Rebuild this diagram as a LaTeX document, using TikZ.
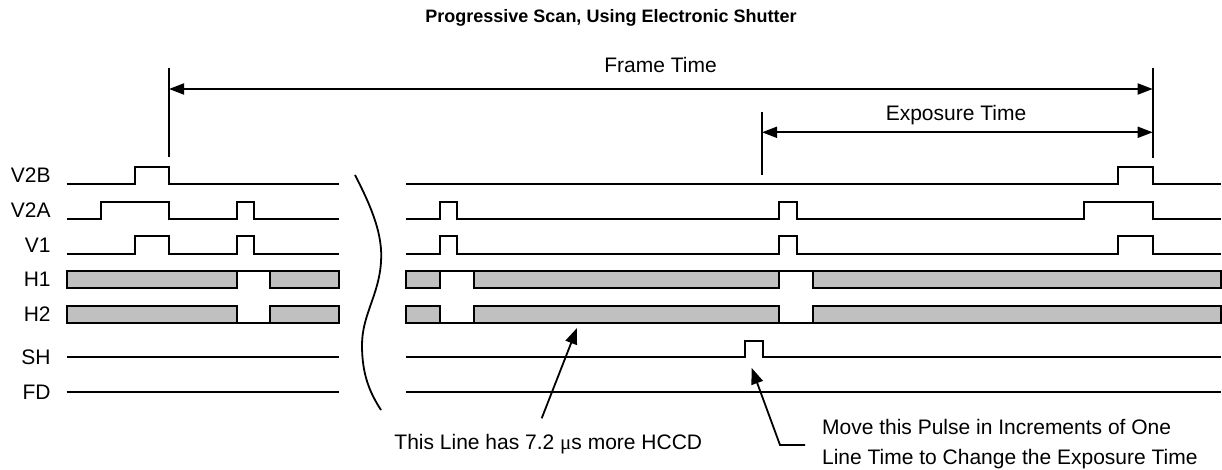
\documentclass[tikz,border=0pt]{standalone}
\usepackage{fontspec}
\setmainfont{Liberation Sans}
\newfontfamily\mufont{Liberation Serif}
\usetikzlibrary{arrows.meta}
\definecolor{busgray}{RGB}{192,192,192}
\begin{document}
\begin{tikzpicture}[x=0.5pt,y=-0.5pt,
  sig/.style={line width=0.9pt, line join=miter, line cap=butt},
  bus/.style={line width=0.9pt, fill=busgray, draw=black},
  tickline/.style={line width=0.9pt},
  dimarrow/.style={line width=0.9pt, {Triangle[length=7.5pt,width=5.5pt]}-{Triangle[length=7.5pt,width=5.5pt]}},
  pointer/.style={line width=0.9pt, -{Triangle[length=8pt,width=6pt]}},
  lbl/.style={anchor=east, inner sep=0pt, font=\fontsize{10.5pt}{12pt}\selectfont},
  txt/.style={inner sep=0pt, font=\fontsize{10.5pt}{12pt}\selectfont},
  ttl/.style={inner sep=0pt, font=\bfseries\fontsize{9pt}{11pt}\selectfont}]
\useasboundingbox (0,0) rectangle (1222,470);

% title
\node[ttl, anchor=base] (title) at (611,23) {Progressive Scan, Using Electronic Shutter};

% dimension marks
\coordinate (fTop1) at (169,68);   \coordinate (fBot1) at (169,157);
\coordinate (fTop2) at (1152.7,68); \coordinate (fBot2) at (1152.7,157.7);
\coordinate (eTop1) at (762,112.3); \coordinate (eBot1) at (762,175);
\draw[tickline] (fTop1) -- (fBot1);
\draw[tickline] (fTop2) -- (fBot2);
\draw[tickline] (eTop1) -- (eBot1);
\coordinate (fL) at (169,89);  \coordinate (fR) at (1152.7,89);
\coordinate (eL) at (762,132.3); \coordinate (eR) at (1152.7,132.3);
\draw[dimarrow] (fL) -- (fR);
\draw[dimarrow] (eL) -- (eR);
\node[txt, anchor=base] (frametime) at (660.5,72.7) {Frame Time};
\node[txt, anchor=base] (exptime) at (956,120.7) {Exposure Time};

% labels
\node[lbl] (lV2B) at (51,175) {V2B};
\node[lbl] (lV2A) at (51,210.3) {V2A};
\node[lbl] (lV1) at (51,245) {V1};
\node[lbl] (lH1) at (51,279.7) {H1};
\node[lbl] (lH2) at (51,314.2) {H2};
\node[lbl] (lSH) at (51,357.3) {SH};
\node[lbl] (lFD) at (51,392) {FD};

% V2B
\draw[sig] (66.7,183.7) -- (134.7,183.7) -- (134.7,166.7) -- (169,166.7) -- (169,183.7) -- (339,183.7);
\draw[sig] (406,183.7) -- (1118.3,183.7) -- (1118.3,166.7) -- (1152.7,166.7) -- (1152.7,183.7) -- (1220.7,183.7);

% V2A
\draw[sig] (66.7,219) -- (101,219) -- (101,201.7) -- (169,201.7) -- (169,219) -- (236.7,219) -- (236.7,201.7) -- (254,201.7) -- (254,219) -- (339,219);
\draw[sig] (406,219) -- (440,219) -- (440,201.7) -- (457.3,201.7) -- (457.3,219) -- (779.3,219) -- (779.3,201.7) -- (796.7,201.7) -- (796.7,219) -- (1084.3,219) -- (1084.3,201.7) -- (1152.7,201.7) -- (1152.7,219) -- (1220.7,219);

% V1
\draw[sig] (66.7,253.7) -- (134.7,253.7) -- (134.7,236.3) -- (169,236.3) -- (169,253.7) -- (236.7,253.7) -- (236.7,236.3) -- (254,236.3) -- (254,253.7) -- (339,253.7);
\draw[sig] (406,253.7) -- (440,253.7) -- (440,236.3) -- (457.3,236.3) -- (457.3,253.7) -- (779.3,253.7) -- (779.3,236.3) -- (796.7,236.3) -- (796.7,253.7) -- (1118.3,253.7) -- (1118.3,236.3) -- (1152.7,236.3) -- (1152.7,253.7) -- (1220.7,253.7);

% H1
\draw[bus] (66.7,271) rectangle (236.7,288.3);
\draw[sig] (236.7,271) -- (270,271);
\draw[bus] (270,271) rectangle (339,288.3);
\draw[bus] (406,271) rectangle (440,288.3);
\draw[sig] (440,271) -- (474,271);
\draw[bus] (474,271) rectangle (779.3,288.3);
\draw[sig] (779.3,271) -- (813.3,271);
\draw[bus] (813.3,271) rectangle (1220.7,288.3);

% H2
\draw[bus] (66.7,305.7) rectangle (236.7,322.7);
\draw[sig] (236.7,322.7) -- (270,322.7);
\draw[bus] (270,305.7) rectangle (339,322.7);
\draw[bus] (406,305.7) rectangle (440,322.7);
\draw[sig] (440,322.7) -- (474,322.7);
\draw[bus] (474,305.7) rectangle (779.3,322.7);
\draw[sig] (779.3,322.7) -- (813.3,322.7);
\draw[bus] (813.3,305.7) rectangle (1220.7,322.7);

% SH
\draw[sig] (66.7,357.3) -- (339,357.3);
\draw[sig] (406,357.3) -- (745,357.3) -- (745,340.7) -- (762.7,340.7) -- (762.7,357.3) -- (1220.7,357.3);

% FD
\draw[sig] (66.7,392) -- (339,392);
\draw[sig] (406,392) -- (1220.7,392);

% break curve
\draw[line width=0.9pt] (355,175) .. controls (372,208) and (383,235) .. (381,262)
  .. controls (379,295) and (362,315) .. (362,345)
  .. controls (362,375) and (370,393) .. (381,410);

% annotations
\node[txt, anchor=base] (hccd) at (548.3,450) {This Line has 7.2 {\mufont μ}s more HCCD};
\coordinate (p1s) at (541.7,418.3);
\coordinate (p1t) at (577,328);
\draw[pointer] (p1s) -- (p1t);

\node[txt, anchor=base west] (move1) at (821.7,435) {Move this Pulse in Increments of One};
\node[txt, anchor=base west] (move2) at (821.7,465) {Line Time to Change the Exposure Time};
\coordinate (p2s) at (805,445);
\coordinate (p2c) at (780,445);
\coordinate (p2t) at (751.7,368);
\draw[pointer] (p2s) -- (p2c) -- (p2t);
\end{tikzpicture}
\end{document}
